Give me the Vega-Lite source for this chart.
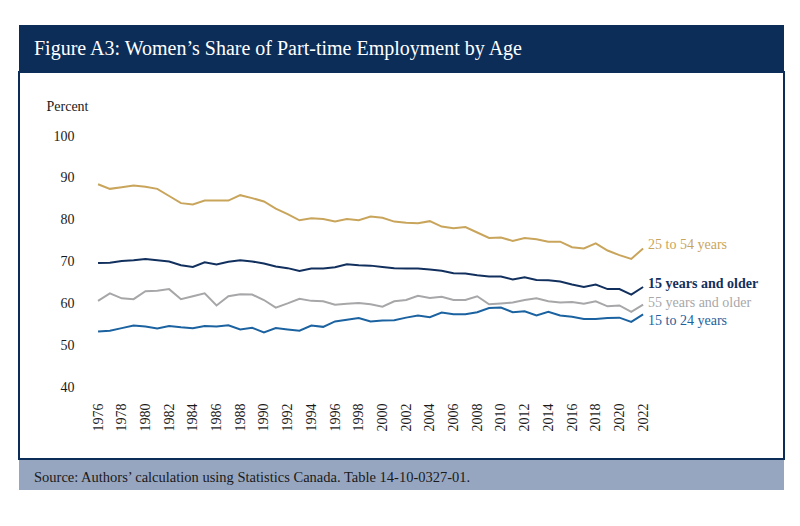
{
  "$schema": "https://vega.github.io/schema/vega-lite/v6.json",
  "padding": {"left": 18, "top": 25, "right": 17, "bottom": 38},
  "background": "white",
  "spacing": 0,
  "config": {
    "font": "Liberation Serif",
    "view": {"stroke": null},
    "concat": {"spacing": 0}
  },
  "vconcat": [
    {
      "width": 765,
      "height": 46,
      "view": {"fill": "#0b2d58", "stroke": null},
      "data": {"values": [{"part": "header"}]},
      "mark": {"type": "rect", "color": "#0b2d58"},
      "encoding": {},
      "title": {
        "text": "Figure A3: Women’s Share of Part-time Employment by Age",
        "anchor": "start",
        "frame": "group",
        "orient": "top",
        "offset": -50,
        "dx": 15,
        "baseline": "alphabetic",
        "color": "white",
        "fontSize": 20,
        "fontWeight": "normal",
        "font": "Liberation Serif"
      }
    },
    {
      "width": 765,
      "height": 387,
      "view": {"fill": "white", "stroke": "#0b2d58", "strokeWidth": 2},
      "data": {
        "values": [
          {"year": 1976, "25 to 54 years": 88.5, "15 years and older": 69.7, "55 years and older": 60.7, "15 to 24 years": 53.4},
          {"year": 1977, "25 to 54 years": 87.4, "15 years and older": 69.8, "55 years and older": 62.5, "15 to 24 years": 53.6},
          {"year": 1978, "25 to 54 years": 87.8, "15 years and older": 70.2, "55 years and older": 61.3, "15 to 24 years": 54.2},
          {"year": 1979, "25 to 54 years": 88.2, "15 years and older": 70.4, "55 years and older": 61.1, "15 to 24 years": 54.8},
          {"year": 1980, "25 to 54 years": 87.9, "15 years and older": 70.7, "55 years and older": 63.0, "15 to 24 years": 54.6},
          {"year": 1981, "25 to 54 years": 87.4, "15 years and older": 70.4, "55 years and older": 63.1, "15 to 24 years": 54.1},
          {"year": 1982, "25 to 54 years": 85.7, "15 years and older": 70.1, "55 years and older": 63.5, "15 to 24 years": 54.7},
          {"year": 1983, "25 to 54 years": 84.0, "15 years and older": 69.2, "55 years and older": 61.1, "15 to 24 years": 54.4},
          {"year": 1984, "25 to 54 years": 83.7, "15 years and older": 68.8, "55 years and older": 61.8, "15 to 24 years": 54.2},
          {"year": 1985, "25 to 54 years": 84.6, "15 years and older": 69.9, "55 years and older": 62.5, "15 to 24 years": 54.7},
          {"year": 1986, "25 to 54 years": 84.6, "15 years and older": 69.4, "55 years and older": 59.6, "15 to 24 years": 54.6},
          {"year": 1987, "25 to 54 years": 84.6, "15 years and older": 70.0, "55 years and older": 61.8, "15 to 24 years": 54.9},
          {"year": 1988, "25 to 54 years": 85.9, "15 years and older": 70.4, "55 years and older": 62.3, "15 to 24 years": 53.9},
          {"year": 1989, "25 to 54 years": 85.2, "15 years and older": 70.1, "55 years and older": 62.2, "15 to 24 years": 54.3},
          {"year": 1990, "25 to 54 years": 84.4, "15 years and older": 69.6, "55 years and older": 60.9, "15 to 24 years": 53.2},
          {"year": 1991, "25 to 54 years": 82.7, "15 years and older": 68.9, "55 years and older": 59.1, "15 to 24 years": 54.2},
          {"year": 1992, "25 to 54 years": 81.4, "15 years and older": 68.5, "55 years and older": 60.1, "15 to 24 years": 53.9},
          {"year": 1993, "25 to 54 years": 79.9, "15 years and older": 67.8, "55 years and older": 61.2, "15 to 24 years": 53.6},
          {"year": 1994, "25 to 54 years": 80.4, "15 years and older": 68.4, "55 years and older": 60.7, "15 to 24 years": 54.8},
          {"year": 1995, "25 to 54 years": 80.2, "15 years and older": 68.4, "55 years and older": 60.6, "15 to 24 years": 54.5},
          {"year": 1996, "25 to 54 years": 79.6, "15 years and older": 68.7, "55 years and older": 59.8, "15 to 24 years": 55.8},
          {"year": 1997, "25 to 54 years": 80.2, "15 years and older": 69.4, "55 years and older": 60.0, "15 to 24 years": 56.2},
          {"year": 1998, "25 to 54 years": 79.9, "15 years and older": 69.2, "55 years and older": 60.2, "15 to 24 years": 56.6},
          {"year": 1999, "25 to 54 years": 80.8, "15 years and older": 69.1, "55 years and older": 59.9, "15 to 24 years": 55.8},
          {"year": 2000, "25 to 54 years": 80.5, "15 years and older": 68.8, "55 years and older": 59.3, "15 to 24 years": 56.0},
          {"year": 2001, "25 to 54 years": 79.6, "15 years and older": 68.5, "55 years and older": 60.6, "15 to 24 years": 56.1},
          {"year": 2002, "25 to 54 years": 79.3, "15 years and older": 68.4, "55 years and older": 60.9, "15 to 24 years": 56.7},
          {"year": 2003, "25 to 54 years": 79.2, "15 years and older": 68.4, "55 years and older": 61.9, "15 to 24 years": 57.2},
          {"year": 2004, "25 to 54 years": 79.7, "15 years and older": 68.2, "55 years and older": 61.4, "15 to 24 years": 56.8},
          {"year": 2005, "25 to 54 years": 78.4, "15 years and older": 67.9, "55 years and older": 61.7, "15 to 24 years": 57.9},
          {"year": 2006, "25 to 54 years": 78.0, "15 years and older": 67.3, "55 years and older": 60.9, "15 to 24 years": 57.5},
          {"year": 2007, "25 to 54 years": 78.3, "15 years and older": 67.2, "55 years and older": 60.9, "15 to 24 years": 57.5},
          {"year": 2008, "25 to 54 years": 77.0, "15 years and older": 66.8, "55 years and older": 61.8, "15 to 24 years": 58.0},
          {"year": 2009, "25 to 54 years": 75.7, "15 years and older": 66.5, "55 years and older": 59.9, "15 to 24 years": 59.0},
          {"year": 2010, "25 to 54 years": 75.8, "15 years and older": 66.5, "55 years and older": 60.1, "15 to 24 years": 59.1},
          {"year": 2011, "25 to 54 years": 75.0, "15 years and older": 65.8, "55 years and older": 60.3, "15 to 24 years": 58.0},
          {"year": 2012, "25 to 54 years": 75.7, "15 years and older": 66.3, "55 years and older": 60.9, "15 to 24 years": 58.2},
          {"year": 2013, "25 to 54 years": 75.4, "15 years and older": 65.7, "55 years and older": 61.3, "15 to 24 years": 57.2},
          {"year": 2014, "25 to 54 years": 74.8, "15 years and older": 65.6, "55 years and older": 60.6, "15 to 24 years": 58.1},
          {"year": 2015, "25 to 54 years": 74.8, "15 years and older": 65.3, "55 years and older": 60.3, "15 to 24 years": 57.2},
          {"year": 2016, "25 to 54 years": 73.5, "15 years and older": 64.6, "55 years and older": 60.4, "15 to 24 years": 56.9},
          {"year": 2017, "25 to 54 years": 73.2, "15 years and older": 64.0, "55 years and older": 60.0, "15 to 24 years": 56.4},
          {"year": 2018, "25 to 54 years": 74.4, "15 years and older": 64.6, "55 years and older": 60.6, "15 to 24 years": 56.4},
          {"year": 2019, "25 to 54 years": 72.7, "15 years and older": 63.5, "55 years and older": 59.4, "15 to 24 years": 56.6},
          {"year": 2020, "25 to 54 years": 71.6, "15 years and older": 63.5, "55 years and older": 59.6, "15 to 24 years": 56.7},
          {"year": 2021, "25 to 54 years": 70.7, "15 years and older": 62.2, "55 years and older": 58.1, "15 to 24 years": 55.7},
          {"year": 2022, "25 to 54 years": 73.2, "15 years and older": 64.0, "55 years and older": 59.8, "15 to 24 years": 57.5}
        ]
      },
      "transform": [
        {"fold": ["25 to 54 years", "15 years and older", "55 years and older", "15 to 24 years"], "as": ["series", "value"]}
      ],
      "encoding": {
        "x": {
          "field": "year",
          "type": "quantitative",
          "scale": {"domain": [1969.33, 2033.89], "nice": false, "zero": false},
          "axis": {
            "title": null,
            "values": [1976, 1978, 1980, 1982, 1984, 1986, 1988, 1990, 1992, 1994, 1996, 1998, 2000, 2002, 2004, 2006, 2008, 2010, 2012, 2014, 2016, 2018, 2020, 2022],
            "format": "d",
            "labelAngle": -90,
            "labelAlign": "right",
            "labelBaseline": "middle",
            "domain": false,
            "ticks": false,
            "grid": false,
            "offset": -71,
            "labelPadding": 15,
            "labelFontSize": 14,
            "labelColor": "#1a1a1a",
            "labelFlush": false,
            "labelOverlap": false,
            "labelBound": false
          }
        },
        "y": {
          "field": "value",
          "type": "quantitative",
          "scale": {"domain": [23.0, 115.26], "nice": false, "zero": false},
          "axis": {
            "title": "Percent",
            "values": [40, 50, 60, 70, 80, 90, 100],
            "domain": false,
            "ticks": false,
            "grid": false,
            "offset": -57,
            "labelPadding": 2,
            "labelFontSize": 14,
            "labelColor": "#1a1a1a",
            "labelFlush": false,
            "titleAngle": 0,
            "titleX": -30,
            "titleY": 34,
            "titleAlign": "left",
            "titleBaseline": "middle",
            "titleFontSize": 14,
            "titleFontWeight": "normal",
            "titleColor": "#1a1a1a"
          }
        }
      },
      "layer": [
        {
          "data": {"values": [{"baseline": 40}]},
          "mark": {"type": "rule", "color": "#9d9d9d", "strokeWidth": 1.5},
          "encoding": {
            "x": {"datum": 1975.47, "type": "quantitative"},
            "x2": {"datum": 2022.17},
            "y": {"field": "baseline", "type": "quantitative"}
          }
        },
        {
          "mark": {"type": "line", "strokeWidth": 2},
          "encoding": {
            "color": {
              "field": "series",
              "type": "nominal",
              "scale": {
                "domain": ["25 to 54 years", "15 years and older", "55 years and older", "15 to 24 years"],
                "range": ["#c9a55c", "#12305e", "#a7a7a9", "#1b62a0"]
              },
              "legend": null
            }
          }
        },
        {
          "transform": [{"filter": {"and": [{"field": "year", "equal": 2022}, {"field": "series", "equal": "25 to 54 years"}]}}],
          "mark": {"type": "text", "align": "left", "baseline": "middle", "dx": 5, "dy": -3, "fontSize": 14, "color": "#c9a55c"},
          "encoding": {"text": {"field": "series"}}
        },
        {
          "transform": [{"filter": {"and": [{"field": "year", "equal": 2022}, {"field": "series", "equal": "15 years and older"}]}}],
          "mark": {"type": "text", "align": "left", "baseline": "middle", "dx": 5, "dy": -3, "fontSize": 14, "fontWeight": "bold", "color": "#12305e"},
          "encoding": {"text": {"field": "series"}}
        },
        {
          "transform": [{"filter": {"and": [{"field": "year", "equal": 2022}, {"field": "series", "equal": "55 years and older"}]}}],
          "mark": {"type": "text", "align": "left", "baseline": "middle", "dx": 5, "dy": -2, "fontSize": 14, "color": "#a7a7a9"},
          "encoding": {"text": {"field": "series"}}
        },
        {
          "transform": [{"filter": {"and": [{"field": "year", "equal": 2022}, {"field": "series", "equal": "15 to 24 years"}]}}],
          "mark": {"type": "text", "align": "left", "baseline": "middle", "dx": 5, "dy": 7, "fontSize": 14, "color": "#1b62a0"},
          "encoding": {"text": {"field": "series"}}
        }
      ]
    },
    {
      "width": 765,
      "height": 30,
      "view": {"fill": "#97a6c0", "stroke": null},
      "data": {"values": [{"part": "footer"}]},
      "mark": {"type": "rect", "color": "#97a6c0"},
      "encoding": {},
      "title": {
        "text": "Source: Authors’ calculation using Statistics Canada. Table 14-10-0327-01.",
        "anchor": "start",
        "frame": "group",
        "orient": "top",
        "offset": -36,
        "dx": 15,
        "baseline": "alphabetic",
        "color": "#1a1a1a",
        "fontSize": 14.5,
        "fontWeight": "normal",
        "font": "Liberation Serif"
      }
    }
  ]
}
